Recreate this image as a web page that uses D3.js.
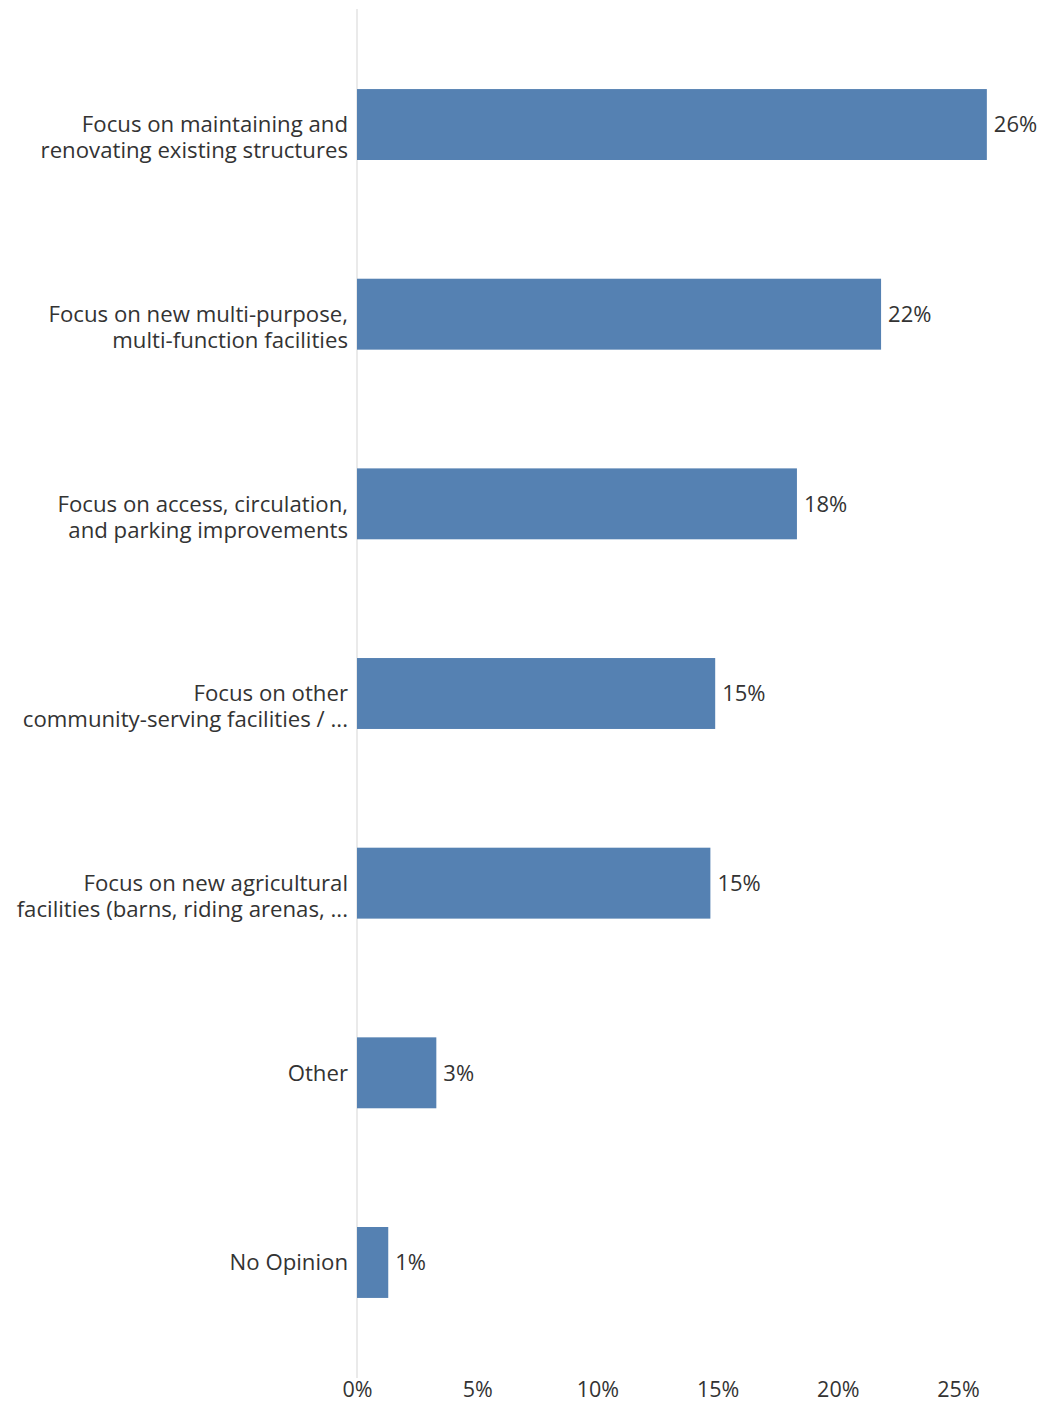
<!DOCTYPE html>
<html>
<head>
<meta charset="utf-8">
<script src="https://cdn.jsdelivr.net/npm/d3@7"></script>
<style>
  html, body { margin: 0; padding: 0; background: #fff; }
  svg { display: block; }
  text { font-family: "Open Sans", sans-serif; fill: #333; }
</style>
</head>
<body>
<svg id="chart" width="1038" height="1403"></svg>
<script>
const categories = [
  ["Focus on maintaining and", "renovating existing structures"],
  ["Focus on new multi-purpose,", "multi-function facilities"],
  ["Focus on access, circulation,", "and parking improvements"],
  ["Focus on other", "community-serving facilities / ..."],
  ["Focus on new agricultural", "facilities (barns, riding arenas, ..."],
  ["Other"],
  ["No Opinion"]
];
const values = [26.2, 21.8, 18.3, 14.9, 14.7, 3.3, 1.3];
const tickValues = [0, 5, 10, 15, 20, 25];

const svg = d3.select("#chart");
const x = d3.scaleLinear().domain([0, 25]).range([357, 958]);
const y = d3.scaleBand()
  .domain(d3.range(categories.length))
  .range([29.7, 1357.3])
  .paddingInner(0.626)
  .paddingOuter(0.313);

// axis line
svg.append("line")
  .attr("x1", x(0)).attr("x2", x(0))
  .attr("y1", 9).attr("y2", 1378)
  .attr("stroke", "#e3e3e3").attr("stroke-width", 1.5);

// bars
svg.selectAll("rect.bar").data(values).enter().append("rect")
  .attr("class", "bar")
  .attr("x", x(0))
  .attr("y", (d, i) => y(i))
  .attr("width", d => x(d) - x(0))
  .attr("height", y.bandwidth())
  .attr("fill", "#5581b2");

// value labels
svg.selectAll("text.val").data(values).enter().append("text")
  .attr("class", "val")
  .attr("x", d => x(d) + 7)
  .attr("y", (d, i) => y(i) + y.bandwidth() / 2)
  .attr("dy", "0.35em")
  .attr("font-size", 22)
  .text(d => d3.format(".0f")(d) + "%");

// category labels (first line centred on the bar, further lines below)
categories.forEach((lines, i) => {
  lines.forEach((ln, k) => {
    svg.append("text")
      .attr("class", "cat")
      .attr("text-anchor", "end")
      .attr("font-size", 22.2)
      .attr("x", 348)
      .attr("y", y(i) + y.bandwidth() / 2 + k * 26)
      .attr("dy", "0.35em")
      .text(ln);
  });
});

// x axis
const xAxis = d3.axisBottom(x).tickValues(tickValues).tickSize(0).tickPadding(0)
  .tickFormat(d => d + "%");
const gx = svg.append("g").attr("transform", "translate(0,1380)").call(xAxis);
gx.select(".domain").remove();
gx.selectAll("text").attr("font-size", 21.5).attr("fill", "#333")
  .attr("font-family", "Open Sans, sans-serif").attr("dy", "0.71em").attr("y", 2);
</script>
</body>
</html>
